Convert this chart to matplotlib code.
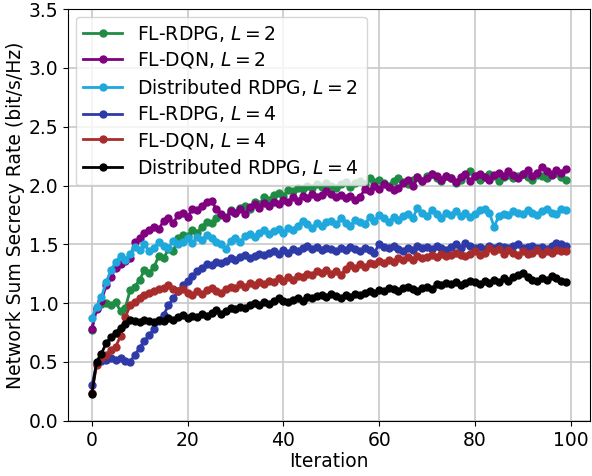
import numpy as np
import matplotlib
matplotlib.use("Agg")
import matplotlib.pyplot as plt

iterations = np.arange(100)

fl_rdpg_l2 = [0.77, 0.96, 0.99, 1.00, 0.98, 1.01, 0.93, 0.96, 1.11, 1.14,
              1.20, 1.28, 1.26, 1.31, 1.40, 1.38, 1.46, 1.44, 1.55, 1.58,
              1.57, 1.62, 1.60, 1.65, 1.69, 1.68, 1.72, 1.75, 1.73, 1.79,
              1.77, 1.81, 1.83, 1.80, 1.86, 1.84, 1.90, 1.88, 1.92, 1.94,
              1.91, 1.96, 1.95, 1.98, 1.97, 2.00, 1.98, 2.01, 1.99, 2.02,
              2.00, 1.98, 2.01, 2.03, 1.99, 2.02, 2.04, 2.01, 2.06, 2.03,
              2.05, 2.02, 2.00, 2.04, 2.06, 2.03, 2.01, 2.05, 2.07, 2.04,
              2.08, 2.10, 2.06, 2.04, 2.08, 2.06, 2.02, 2.05, 2.09, 2.12,
              2.08, 2.05, 2.07, 2.10, 2.08, 2.04, 2.07, 2.09, 2.06, 2.08,
              2.10, 2.07, 2.05, 2.09, 2.08, 2.06, 2.10, 2.11, 2.07, 2.05]

fl_dqn_l2 = [0.78, 0.95, 1.02, 1.15, 1.22, 1.30, 1.33, 1.36, 1.38, 1.52,
             1.55, 1.60, 1.62, 1.65, 1.63, 1.70, 1.72, 1.68, 1.75, 1.77,
             1.73, 1.80, 1.79, 1.83, 1.86, 1.87, 1.80, 1.76, 1.72, 1.78,
             1.77, 1.80, 1.76, 1.82, 1.84, 1.81, 1.85, 1.83, 1.86, 1.84,
             1.88, 1.86, 1.90, 1.87, 1.91, 1.89, 1.93, 1.90, 1.92, 1.95,
             1.93, 1.90, 1.92, 1.89, 1.91, 1.88, 1.90, 1.97, 1.95, 2.00,
             1.97, 2.01, 1.99, 1.96, 1.98, 2.02, 2.05, 2.00, 2.07, 2.04,
             2.06, 2.10, 2.08, 2.05, 2.08, 2.06, 2.03, 2.07, 2.10, 2.04,
             2.08, 2.10, 2.07, 2.05, 2.09, 2.11, 2.08, 2.12, 2.09, 2.06,
             2.10, 2.13, 2.08, 2.11, 2.16, 2.12, 2.09, 2.13, 2.11, 2.14]

dist_rdpg_l2 = [0.87, 0.97, 1.05, 1.18, 1.28, 1.35, 1.40, 1.37, 1.42, 1.48,
                1.45, 1.50, 1.44, 1.47, 1.52, 1.49, 1.47, 1.53, 1.50, 1.52,
                1.55, 1.51, 1.56, 1.54, 1.58, 1.55, 1.52, 1.50, 1.46, 1.53,
                1.55, 1.52, 1.57, 1.59, 1.56, 1.60, 1.62, 1.59, 1.61, 1.63,
                1.60, 1.64, 1.62, 1.66, 1.70, 1.67, 1.64, 1.68, 1.66, 1.69,
                1.70, 1.67, 1.72, 1.68, 1.66, 1.71, 1.69, 1.67, 1.73, 1.70,
                1.75, 1.72, 1.69, 1.73, 1.71, 1.74, 1.76, 1.72, 1.81, 1.77,
                1.74, 1.79, 1.76, 1.72, 1.77, 1.75, 1.78, 1.74, 1.77, 1.73,
                1.76, 1.79, 1.80, 1.77, 1.65, 1.74, 1.76, 1.75, 1.78, 1.77,
                1.76, 1.79, 1.77, 1.75, 1.78, 1.80, 1.77, 1.76, 1.80, 1.79]

fl_rdpg_l4 = [0.30, 0.48, 0.51, 0.52, 0.53, 0.52, 0.53, 0.51, 0.50, 0.56,
              0.62, 0.68, 0.73, 0.78, 0.85, 0.90, 0.98, 1.04, 1.10, 1.15,
              1.19, 1.23, 1.27, 1.30, 1.33, 1.32, 1.35, 1.34, 1.36, 1.38,
              1.37, 1.39, 1.41, 1.38, 1.40, 1.42, 1.41, 1.43, 1.44, 1.42,
              1.45, 1.43, 1.46, 1.44, 1.47, 1.49, 1.46, 1.48, 1.45, 1.47,
              1.46, 1.44, 1.47, 1.45, 1.48, 1.46, 1.44, 1.47, 1.45, 1.43,
              1.50, 1.48, 1.47, 1.49, 1.46, 1.44, 1.47, 1.45, 1.49, 1.47,
              1.48, 1.46, 1.49, 1.47, 1.45, 1.48, 1.50, 1.47, 1.51, 1.49,
              1.47, 1.48, 1.46, 1.49, 1.47, 1.49, 1.48, 1.47, 1.49, 1.50,
              1.47, 1.48, 1.49, 1.47, 1.48, 1.46, 1.49, 1.51, 1.50, 1.49]

fl_dqn_l4 = [0.24, 0.47, 0.53, 0.56, 0.60, 0.63, 0.72, 0.88, 0.98, 1.01,
             1.04, 1.07, 1.09, 1.10, 1.12, 1.13, 1.15, 1.12, 1.10, 1.12,
             1.09, 1.07, 1.10, 1.08, 1.11, 1.13, 1.10, 1.09, 1.12, 1.14,
             1.13, 1.16, 1.14, 1.17, 1.15, 1.18, 1.16, 1.19, 1.18, 1.21,
             1.19, 1.22, 1.20, 1.23, 1.22, 1.25, 1.24, 1.27, 1.26, 1.28,
             1.25, 1.27, 1.24, 1.29, 1.32, 1.30, 1.33, 1.31, 1.34, 1.33,
             1.36, 1.34, 1.37, 1.35, 1.38, 1.37, 1.39, 1.37, 1.40, 1.38,
             1.39, 1.41, 1.39, 1.42, 1.40, 1.41, 1.43, 1.41, 1.40, 1.42,
             1.44, 1.41, 1.43, 1.47, 1.44, 1.46, 1.42, 1.45, 1.43, 1.41,
             1.44, 1.42, 1.43, 1.45, 1.42, 1.44, 1.43, 1.45, 1.44, 1.44]

dist_rdpg_l4 = [0.23, 0.50, 0.57, 0.66, 0.71, 0.75, 0.79, 0.82, 0.86, 0.85,
                0.84, 0.86, 0.85, 0.84, 0.86, 0.85, 0.87, 0.86, 0.88, 0.90,
                0.87, 0.89, 0.88, 0.91, 0.89, 0.92, 0.94, 0.91, 0.93, 0.96,
                0.95, 0.97, 0.96, 0.98, 1.00, 0.98, 1.01, 0.99, 1.02, 1.04,
                1.02, 1.01, 1.03, 1.04, 1.02, 1.05, 1.04, 1.06, 1.07, 1.05,
                1.08, 1.06, 1.04, 1.07, 1.05, 1.08, 1.07, 1.09, 1.10, 1.09,
                1.11, 1.10, 1.13, 1.12, 1.10, 1.13, 1.14, 1.12, 1.10, 1.13,
                1.14, 1.12, 1.16, 1.15, 1.17, 1.16, 1.18, 1.15, 1.17, 1.19,
                1.18, 1.16, 1.19, 1.17, 1.20, 1.18, 1.21, 1.19, 1.22, 1.24,
                1.26, 1.22, 1.20, 1.19, 1.21, 1.20, 1.23, 1.21, 1.19, 1.18]

series = [
    (fl_rdpg_l2, "FL-RDPG, $L=2$", "#1f8c45"),
    (fl_dqn_l2, "FL-DQN, $L=2$", "#800080"),
    (dist_rdpg_l2, "Distributed RDPG, $L=2$", "#1ea8dc"),
    (fl_rdpg_l4, "FL-RDPG, $L=4$", "#2e3aa8"),
    (fl_dqn_l4, "FL-DQN, $L=4$", "#a82c2c"),
    (dist_rdpg_l4, "Distributed RDPG, $L=4$", "#000000"),
]

plt.rcParams["font.size"] = 13.5

fig, ax = plt.subplots(figsize=(5.92, 4.76), dpi=100)
fig.subplots_adjust(left=0.115, right=0.996, bottom=0.116, top=0.981)

for values, label, color in series:
    ax.plot(iterations, values, color=color, marker="o", markersize=5,
            linewidth=2, label=label)

ax.set_ylim(0, 3.5)
ax.set_xlabel("Iteration", labelpad=2)
ax.set_ylabel("Network Sum Secrecy Rate (bit/s/Hz)", labelpad=3)
ax.grid(True, color="#c8c8c8", linewidth=1.2)
ax.set_axisbelow(True)
ax.legend(loc="upper left", fontsize=13.5, handlelength=2.1, labelspacing=0.34,
          borderaxespad=0.4)

fig.savefig("out.png", dpi=100)
